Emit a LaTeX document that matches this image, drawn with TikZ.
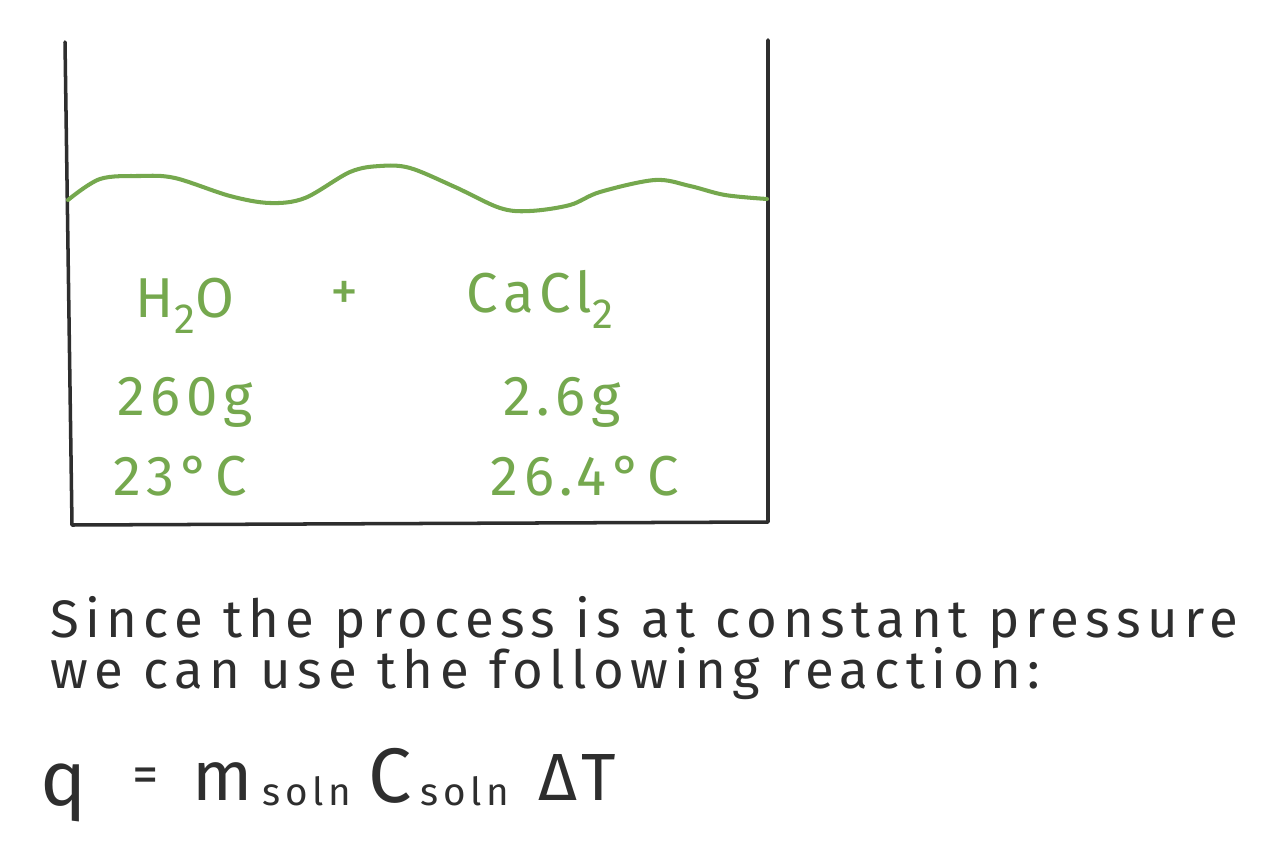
\documentclass[tikz,border=0pt]{standalone}
\usepackage{fontspec}
\setmainfont{Fira Sans}
\newfontfamily\chemfont[LetterSpace=10]{Fira Sans}
\newfontfamily\sketchfont[LetterSpace=12]{Fira Sans}
\usetikzlibrary{positioning}
\definecolor{sketchgreen}{HTML}{75A84E}
\definecolor{sketchink}{HTML}{2E2E2E}
\newcommand{\lowsub}[1]{\raisebox{-0.3em}{\fontsize{24}{24}\selectfont #1}}
\tikzset{
  wall/.style={
    draw=sketchink,
    line width=2pt,
    line cap=round,
    line join=round
  },
  water/.style={
    draw=sketchgreen,
    line width=2.3pt,
    line cap=round
  },
  chem/.style={
    text=sketchgreen,
    font=\chemfont\fontsize{32}{36}\selectfont,
    anchor=base,
    inner sep=0pt
  },
  prose/.style={
    text=sketchink,
    font=\sketchfont\fontsize{30}{35}\selectfont,
    anchor=base west,
    inner sep=0pt
  },
  term/.style={
    text=sketchink,
    font=\sketchfont\fontsize{#1}{#1}\selectfont,
    anchor=base west,
    inner sep=0pt
  }
}

\begin{document}
\begin{tikzpicture}[x=0.02cm, y=-0.02cm]
\useasboundingbox (0,0) rectangle (1262,852);

% beaker
\draw[wall] (65,42) -- (72,525) -- (768,522) -- (768,40);

% liquid surface
\draw[water] plot[smooth, tension=0.55] coordinates {
  (68,200) (100,179) (140,176) (175,178) (230,196) (270,203) (305,198)
  (350,172) (380,166) (410,168) (455,187) (500,208) (530,211) (570,205)
  (600,192) (655,180) (690,186) (725,195) (767,199)
};

% contents
\node[chem] (water) at (185,317) {H\lowsub{2}O};
\node[chem] (plus) at (345,310) {+};
\node[chem] (salt) at (540,312) {CaCl\lowsub{2}};
\node[chem] (watermass) at (185,415) {260g};
\node[chem] (saltmass) at (562,415) {2.6g};
\node[chem] (watertemp) at (180,495) {23°C};
\node[chem] (salttemp) at (585,495) {26.4°C};

% explanation
\node[prose] (line1) at (50,637) {Since the process is at constant pressure};
\node[prose] (line2) at (50,688) {we can use the following reaction:};

% formula
\node[term=44] (q) at (40,805) {q};
\node[term=30] (equals) at (132,792) {=};
\node[term=40] (mass) at (192,800) {m};
\node[term=22] (msub) at (262,805) {soln};
\node[term=44] (heat) at (368,802) {C};
\node[term=22] (csub) at (420,805) {soln};
\node[term=38] (delta) at (538,800) {ΔT};

\end{tikzpicture}
\end{document}
